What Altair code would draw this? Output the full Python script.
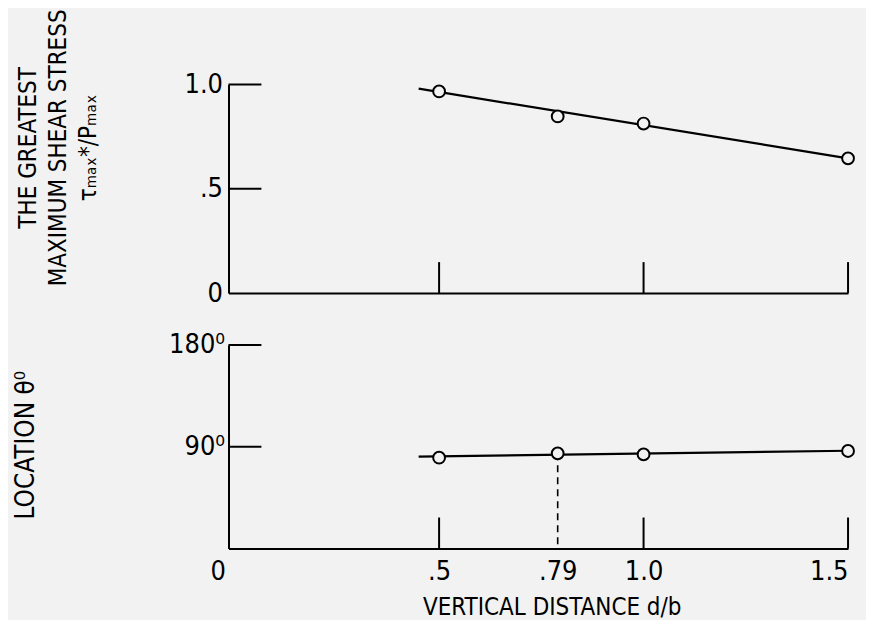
import altair as alt
import pandas as pd

# ---- data ----
d_b = [0.5, 0.79, 1.0, 1.5]                 # vertical distance d/b
tau_ratio = [0.967, 0.847, 0.813, 0.646]    # tau_max*/P_max
theta_deg = [80.3, 84.1, 83.2, 86.2]        # location theta (deg)

fit_x = [0.45, 1.5]                         # drawn straight lines
fit_tau = [0.98, 0.646]
fit_theta = [81.2, 86.4]

dash_x = [0.79]                             # dashed marker line
dash_top = [84.1]
dash_bottom = [0]

x_tick_values = [0.5, 1.0, 1.5]
x_label_values = [0, 0.5, 0.79, 1.0, 1.5]
x_label_text = ["0", ".5", ".79", "1.0", "1.5"]

top_tick_values = [0.5, 1.0]
top_label_values = [0, 0.5, 1.0]
top_label_text = ["0", ".5", "1.0"]

bot_tick_values = [90, 180]
bot_label_values = [90, 180]
bot_label_text = ["90\u2070", "180\u2070"]

# ---- styling ----
BG = "#f2f2f2"
FONT = "Liberation Sans Narrow, DejaVu Sans Condensed, sans-serif"
W = 621
H_TOP = 209
H_BOT = 204
TICK = 33


def label_expr(values, texts):
    expr = "''"
    for v, t in reversed(list(zip(values, texts))):
        expr = f"datum.value == {v} ? '{t}' : ({expr})"
    return expr


xscale = alt.Scale(domain=[-0.015, 1.5], nice=False, zero=False)
top_yscale = alt.Scale(domain=[0, 1.0], nice=False, zero=False)
bot_yscale = alt.Scale(domain=[0, 180], nice=False, zero=False)

top_x_axis = alt.Axis(labels=False, title=None, ticks=False)
bot_x_axis = alt.Axis(
    values=x_label_values,
    labelExpr=label_expr(x_label_values, x_label_text),
    labelOffset=alt.condition("datum.value == 0", alt.value(-17), alt.value(0)),
    labelPadding=10,
    labelFontSize=27,
    title="VERTICAL DISTANCE d/b",
    titleFontSize=24,
    titleX=324,
    titlePadding=11,
)
top_y_axis = alt.Axis(
    values=top_label_values,
    labelExpr=label_expr(top_label_values, top_label_text),
    labelPadding=6,
    labelFontSize=27,
    title=["THE GREATEST", "MAXIMUM SHEAR STRESS", "\u03c4\u2098\u2090\u2093*/P\u2098\u2090\u2093"],
    titleFontSize=24,
    titleAngle=270,
    titleAlign="center",
    titleBaseline="bottom",
    titleLineHeight=30,
    titleX=-188,
    titleY=63,
)
bot_y_axis = alt.Axis(
    values=bot_label_values,
    labelExpr=label_expr(bot_label_values, bot_label_text),
    labelPadding=4,
    labelFontSize=27,
    title="LOCATION \u03b8\u2070",
    titleFontSize=26,
    titleAngle=270,
    titleAlign="center",
    titleBaseline="bottom",
    titleX=-190,
    titleY=100,
)


def panel(ys, yscale, xaxis, yaxis, fit_y, tick_values, height, dashed=None):
    X = alt.X("x:Q", scale=xscale, axis=xaxis)
    Y = alt.Y("y:Q", scale=yscale, axis=yaxis)

    fit = alt.Chart(pd.DataFrame({"x": fit_x, "y": fit_y})).mark_line(
        color="black", strokeWidth=2.2
    ).encode(x=X, y=Y)

    yticks = alt.Chart(pd.DataFrame({"y": tick_values})).mark_rule(
        color="black", strokeWidth=2
    ).encode(y=Y, x=alt.value(0), x2=alt.value(TICK))

    xticks = alt.Chart(pd.DataFrame({"x": x_tick_values})).mark_rule(
        color="black", strokeWidth=2
    ).encode(x=X, y=alt.value(height), y2=alt.value(height - TICK + 2))

    pts = alt.Chart(pd.DataFrame({"x": d_b, "y": ys})).mark_point(
        shape="circle", filled=True, fill=BG, stroke="black",
        strokeWidth=2, size=140, opacity=1
    ).encode(x=X, y=Y)

    layers = [fit, yticks, xticks]
    if dashed is not None:
        dash = alt.Chart(pd.DataFrame(dashed)).mark_rule(
            color="black", strokeWidth=1.6, strokeDash=[7, 5]
        ).encode(x=X, y=Y, y2="y2:Q")
        layers.append(dash)
    layers.append(pts)
    return alt.layer(*layers).properties(width=W, height=height)


top = panel(tau_ratio, top_yscale, top_x_axis, top_y_axis, fit_tau,
            top_tick_values, H_TOP)
bottom = panel(theta_deg, bot_yscale, bot_x_axis, bot_y_axis, fit_theta,
               bot_tick_values, H_BOT,
               dashed={"x": dash_x, "y": dash_top, "y2": dash_bottom})

chart = alt.vconcat(top, bottom, spacing=25).properties(
    background=BG,
    padding={"left": 5, "top": 0, "right": 8, "bottom": 0},
).configure_axis(
    labelFont=FONT,
    titleFont=FONT,
    labelColor="black",
    titleColor="black",
    titleFontWeight="normal",
    grid=False,
    ticks=False,
    domainColor="black",
    domainWidth=2,
).configure_view(stroke=None)

chart.save("out.html", embed_options={"renderer": "svg", "actions": False})
